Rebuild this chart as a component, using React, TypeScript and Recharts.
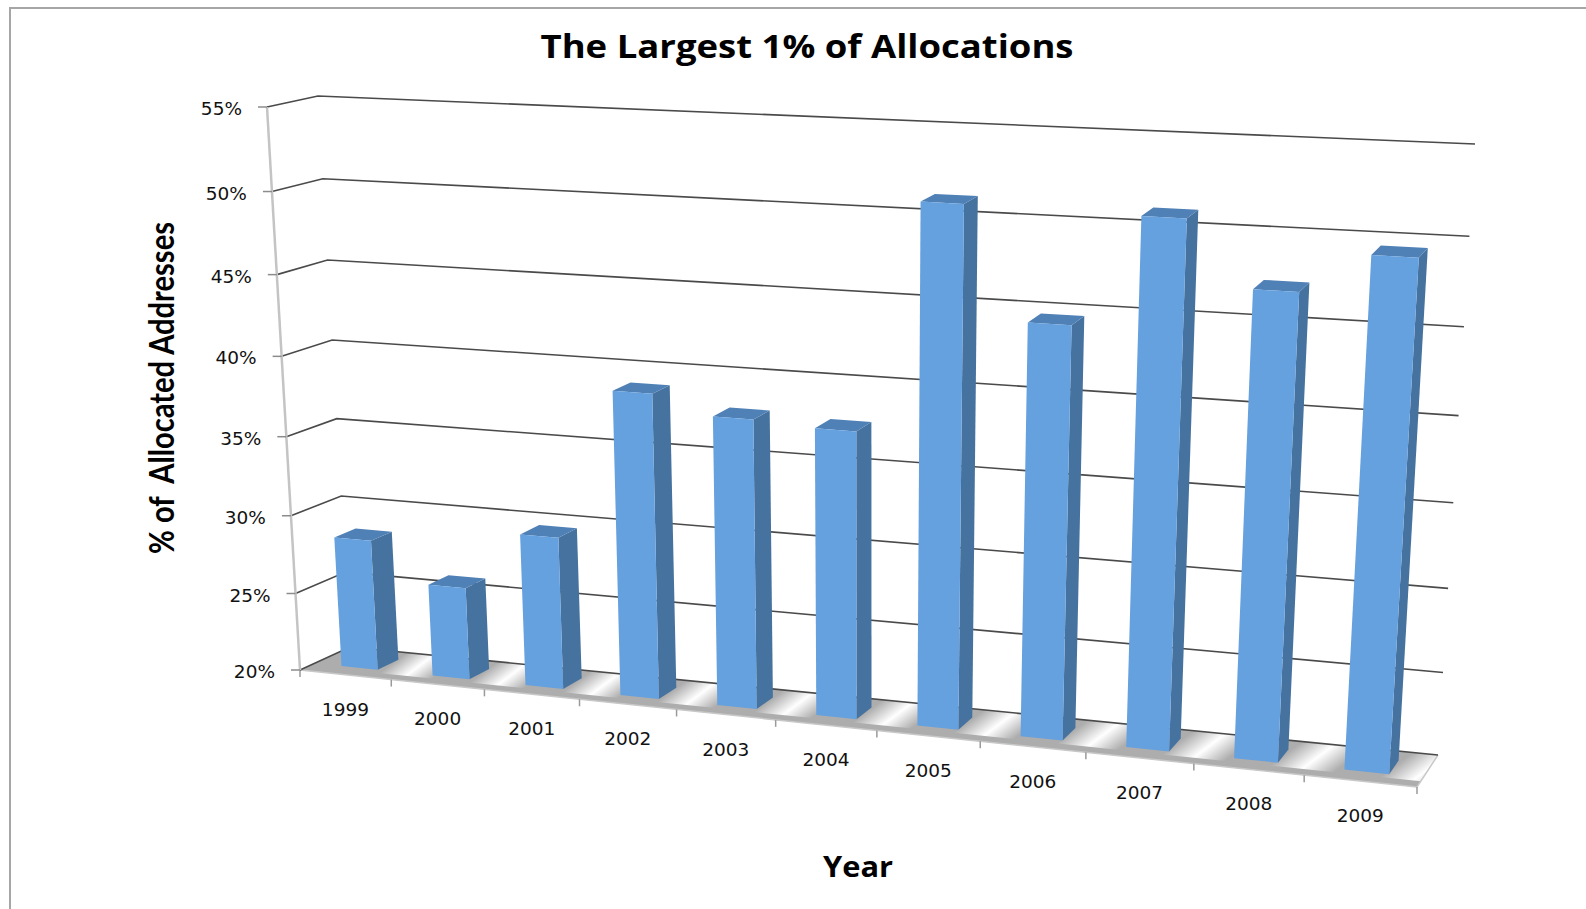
import React from "react";
import { BarChart, Bar, CartesianGrid, XAxis, YAxis } from "recharts";

const years = ["1999", "2000", "2001", "2002", "2003", "2004", "2005", "2006", "2007", "2008", "2009"];
const shares = [28.4, 25.9, 29.65, 39, 37.9, 37.65, 51.2, 44.7, 51.05, 47.35, 49.6];
const yTicks = [20, 25, 30, 35, 40, 45, 50, 55];

const data = years.map((year, i) => ({ year, share: shares[i] }));

const WIDTH = 1586;
const HEIGHT = 909;

// flat plot box the scales work in, before the perspective is applied
const PLOT = { left: 300, top: 100, width: 1100, height: 570 };
const PLOT_BOTTOM = PLOT.top + PLOT.height;

type Pt = [number, number];

// square -> quad homography, corners go (0,0) (1,0) (1,1) (0,1)
const makeHomography = ([p0, p1, p2, p3]: Pt[]) => {
  const [x0, y0] = p0;
  const [x1, y1] = p1;
  const [x2, y2] = p2;
  const [x3, y3] = p3;
  const dx1 = x1 - x2;
  const dx2 = x3 - x2;
  const dy1 = y1 - y2;
  const dy2 = y3 - y2;
  const sx = x0 - x1 + x2 - x3;
  const sy = y0 - y1 + y2 - y3;
  const den = dx1 * dy2 - dx2 * dy1;
  const g = (sx * dy2 - dx2 * sy) / den;
  const h = (dx1 * sy - sx * dy1) / den;
  const a = x1 - x0 + g * x1;
  const b = x3 - x0 + h * x3;
  const d = y1 - y0 + g * y1;
  const e = y3 - y0 + h * y3;
  return (u: number, v: number): Pt => {
    const w = g * u + h * v + 1;
    return [(a * u + b * v + x0) / w, (d * u + e * v + y0) / w];
  };
};

const frontPlane = makeHomography([[300, 670], [1417, 787], [1455, 165], [267, 107]]);
const backPlane = makeHomography([[350, 647], [1438, 755], [1475, 144], [318, 96]]);

// u across the years, v up the value axis, depth 0 at the front edge and 1 at the wall
const project = (u: number, v: number, depth: number): Pt => {
  // a touch more foreshortening along the year axis than the two planes give
  const uu = u - 0.011 * u * (1 - u);
  const f = frontPlane(uu, v);
  const b = backPlane(uu, v);
  return [f[0] + (b[0] - f[0]) * depth, f[1] + (b[1] - f[1]) * depth];
};

const toPath = (pts: Pt[]) =>
  "M" + pts.map((p) => `${p[0].toFixed(1)},${p[1].toFixed(1)}`).join("L") + "Z";

const BAR_FRONT = 0.29;
const BAR_BACK = 0.72;

const Bar3D = (props: any) => {
  const { x, y, width } = props;
  const u0 = (x - PLOT.left) / PLOT.width;
  const u1 = (x + width - PLOT.left) / PLOT.width;
  const v = (PLOT_BOTTOM - y) / PLOT.height;
  const front: Pt[] = [
    project(u0, 0, BAR_FRONT),
    project(u1, 0, BAR_FRONT),
    project(u1, v, BAR_FRONT),
    project(u0, v, BAR_FRONT),
  ];
  const side: Pt[] = [
    project(u1, 0, BAR_FRONT),
    project(u1, 0, BAR_BACK),
    project(u1, v, BAR_BACK),
    project(u1, v, BAR_FRONT),
  ];
  const top: Pt[] = [
    project(u0, v, BAR_FRONT),
    project(u1, v, BAR_FRONT),
    project(u1, v, BAR_BACK),
    project(u0, v, BAR_BACK),
  ];
  return (
    <g>
      <path d={toPath(side)} fill="#46729f" />
      <path d={toPath(top)} fill="#4f80b6" />
      <path d={toPath(front)} fill="#65a0df" />
    </g>
  );
};

// floor with the soft light patches between the columns and its tick marks
const Floor = () => {
  const n = years.length;
  const corners: Pt[] = [project(0, 0, 0), project(1, 0, 0), project(1, 0, 1), project(0, 0, 1)];
  const gaps = years.map((_, i) => i + 1);
  return (
    <g>
      <path d={toPath(corners)} fill="#adadad" />
      {gaps.map((i) => {
        const uL = Math.min((i - 0.4) / n, 1);
        const uR = Math.min((i + 0.4) / n, 1);
        const a = project((i - 0.4) / n, 0, 0.6);
        const b = project((i + 0.4) / n, 0, 0.6);
        const mx = (a[0] + b[0]) / 2;
        const my = (a[1] + b[1]) / 2;
        const len = (b[0] - a[0]) * 0.25;
        const id = `floorGap${i}`;
        const quad: Pt[] = [project(uL, 0, 0.18), project(uR, 0, 0.18), project(uR, 0, 1), project(uL, 0, 1)];
        return (
          <g key={id}>
            <defs>
              <linearGradient
                id={id}
                gradientUnits="userSpaceOnUse"
                x1={mx - len * 0.6}
                y1={my - len * 0.8}
                x2={mx + len * 0.6}
                y2={my + len * 0.8}
              >
                <stop offset="0%" stopColor="#ffffff" stopOpacity={0} />
                <stop offset="50%" stopColor="#ffffff" stopOpacity={1} />
                <stop offset="100%" stopColor="#ffffff" stopOpacity={0} />
              </linearGradient>
            </defs>
            <path d={toPath(quad)} fill={`url(#${id})`} />
          </g>
        );
      })}
      <line
        x1={corners[0][0]} y1={corners[0][1]} x2={corners[1][0]} y2={corners[1][1]}
        stroke="#c8c8c8" strokeWidth={1.5}
      />
      <line
        x1={corners[1][0]} y1={corners[1][1]} x2={corners[2][0]} y2={corners[2][1]}
        stroke="#c8c8c8" strokeWidth={1.5}
      />
      {Array.from({ length: n + 1 }, (_, i) => {
        const p = project(i / n, 0, 0);
        return <line key={i} x1={p[0]} y1={p[1]} x2={p[0]} y2={p[1] + 7} stroke="#9a9a9a" strokeWidth={1.5} />;
      })}
    </g>
  );
};

// wall gridline plus the short run along the left side wall
const GridLine = (props: any) => {
  const v = (PLOT_BOTTOM - props.y1) / PLOT.height;
  const a = project(0, v, 0);
  const b = project(0, v, 1);
  const c = project(1, v, 1);
  return (
    <g key={props.key}>
      {v < 0.001 && <Floor />}
      <polyline
        points={`${a[0]},${a[1]} ${b[0]},${b[1]} ${c[0]},${c[1]}`}
        fill="none"
        stroke="#4a4a4a"
        strokeWidth={1.6}
      />
    </g>
  );
};

const YearTick = (props: any) => {
  const { x, payload } = props;
  const p = project((x - PLOT.left) / PLOT.width, 0, 0);
  return (
    <text
      x={p[0]}
      y={p[1] + 41}
      textAnchor="middle"
      fontFamily="DejaVu Sans"
      fontSize={18.5}
      fill="#111111"
    >
      {payload.value}
    </text>
  );
};

const PercentTick = (props: any) => {
  const { y, payload } = props;
  const p = project(0, (PLOT_BOTTOM - y) / PLOT.height, 0);
  return (
    <g>
      <line x1={p[0] - 9} y1={p[1]} x2={p[0]} y2={p[1]} stroke="#8c8c8c" strokeWidth={1.5} />
      <text
        x={p[0] - 25}
        y={p[1] + 8}
        textAnchor="end"
        fontFamily="DejaVu Sans"
        fontSize={18.5}
        fill="#111111"
      >
        {payload.value}%
      </text>
    </g>
  );
};

export default function App() {
  const axisBottom = project(0, 0, 0);
  const axisTop = project(0, 1, 0);
  return (
    <div style={{ position: "absolute", left: 0, top: 0, width: WIDTH, height: HEIGHT, background: "#fff", overflow: "hidden" }}>
      <div
        style={{
          position: "absolute",
          left: 9,
          top: 7,
          width: WIDTH,
          height: HEIGHT,
          borderLeft: "2px solid #a6a6a6",
          borderTop: "2px solid #a6a6a6",
        }}
      />
      <div style={{ position: "absolute", left: 0, top: 0 }}>
        <BarChart
          width={WIDTH}
          height={HEIGHT}
          data={data}
          barCategoryGap="30%"
          margin={{ top: PLOT.top, right: WIDTH - PLOT.left - PLOT.width, bottom: HEIGHT - PLOT_BOTTOM - 1, left: 0 }}
        >
          <CartesianGrid vertical={false} horizontal={GridLine} />
          <XAxis
            dataKey="year"
            height={1}
            axisLine={false}
            tickLine={false}
            interval={0}
            tick={YearTick}
          />
          <YAxis
            width={PLOT.left}
            domain={[20, 55]}
            ticks={yTicks}
            axisLine={false}
            tickLine={false}
            tick={PercentTick}
          />
          <line
            x1={axisBottom[0]} y1={axisBottom[1]} x2={axisTop[0]} y2={axisTop[1]}
            stroke="#c4c4c4" strokeWidth={2.5}
          />
          <Bar dataKey="share" shape={Bar3D} isAnimationActive={false} />
          <text
            x={807}
            y={58}
            textAnchor="middle"
            fontFamily="Open Sans"
            fontWeight={700}
            fontSize={32}
            textLength={533}
            lengthAdjust="spacingAndGlyphs"
            fill="#000"
          >
            The Largest 1% of Allocations
          </text>
          <text
            x={858}
            y={877}
            textAnchor="middle"
            fontFamily="Open Sans"
            fontWeight={700}
            fontSize={29}
            textLength={70}
            lengthAdjust="spacingAndGlyphs"
            fill="#000"
          >
            Year
          </text>
          <text
            transform="translate(174,388) rotate(-90)"
            textAnchor="middle"
            fontFamily="Lato"
            fontWeight={700}
            fontSize={34}
            textLength={332}
            lengthAdjust="spacingAndGlyphs"
            fill="#000"
            style={{ whiteSpace: "pre" }}
          >
            {"% of  Allocated Addresses"}
          </text>
        </BarChart>
      </div>
    </div>
  );
}
